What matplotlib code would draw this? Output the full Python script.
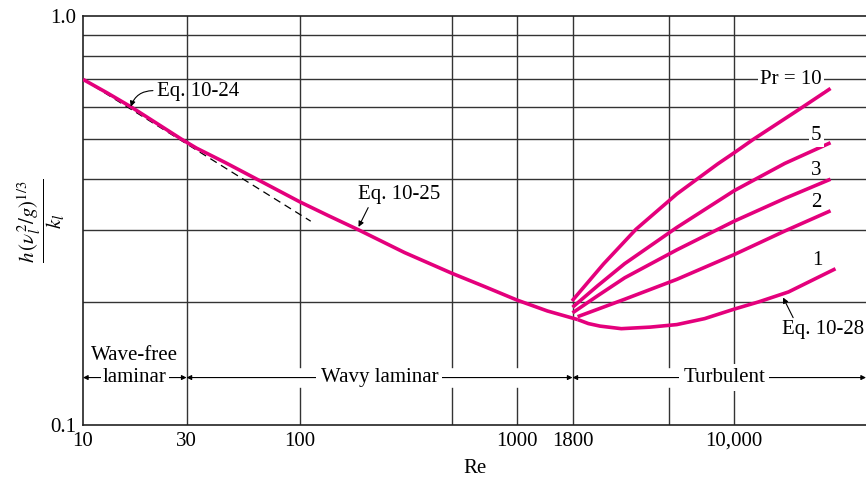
import matplotlib
matplotlib.use('Agg')
import matplotlib.pyplot as plt
from matplotlib.ticker import NullLocator

plt.rcParams['font.family'] = ['Liberation Serif', 'DejaVu Serif']
plt.rcParams['mathtext.fontset'] = 'stix'
plt.rcParams['font.size'] = 15

pink = '#E4007C'
grid_c = '#333333'

# Values
re_lam = [10, 12.9, 16.6, 28.4, 33.4, 45.3, 62.7, 100, 135, 186, 303, 500, 708, 1000,
          1380, 1905]
h_lam = [0.70, 0.649, 0.60, 0.50, 0.475, 0.438, 0.40, 0.351, 0.325, 0.30, 0.264, 0.235,
         0.218, 0.202, 0.190, 0.181]

re_eq24 = [10, 112]
h_eq24 = [0.70, 0.315]

re_pr10 = [1790, 2500, 3530, 5440, 8410, 10000, 12300, 20300, 27800]
h_pr10 = [0.201, 0.2475, 0.301, 0.367, 0.435, 0.463, 0.500, 0.595, 0.665]

re_pr5 = [1800, 2350, 3130, 5440, 10000, 17100, 27800]
h_pr5 = [0.194, 0.219, 0.248, 0.304, 0.374, 0.436, 0.490]

re_pr3 = [1800, 2350, 3130, 5440, 10000, 17100, 27800]
h_pr3 = [0.188, 0.207, 0.229, 0.268, 0.315, 0.358, 0.399]

re_pr2 = [1900, 3130, 5440, 10000, 17100, 27800]
h_pr2 = [0.184, 0.203, 0.227, 0.261, 0.298, 0.334]

re_pr1 = [1905, 2130, 2410, 3020, 4100, 5440, 7310, 10000, 12970, 17800, 29300]
h_pr1 = [0.181, 0.177, 0.1745, 0.172, 0.1735, 0.176, 0.182, 0.192, 0.200, 0.2115, 0.241]

x_ticks = [10, 30, 100, 1000, 1800, 10000]
x_labels = ['10', '30', '100', '1000', '1800', '10,000']
x_grid = [30, 100, 500, 1000, 1800, 5000, 10000]
x_bounds = [30, 1800]
y_grid = [0.2, 0.3, 0.4, 0.5, 0.6, 0.7, 0.8, 0.9]

fig = plt.figure(figsize=(8.66, 4.87), dpi=100)
ax = fig.add_axes([83 / 866, 1 - 425 / 487, 1 - 83 / 866, (425 - 16) / 487])
ax.set_xscale('log')
ax.set_yscale('log')
ax.set_xlim(10, 40500)
ax.set_ylim(0.1, 1.0)

# grid
for yv in y_grid:
    ax.axhline(yv, color=grid_c, lw=1.0, zorder=1)
for xv in x_grid:
    if xv in x_bounds:
        ax.axvline(xv, color=grid_c, lw=1.0, zorder=1)
    else:
        ax.axvline(xv, ymin=0, ymax=0.09, color=grid_c, lw=1.0, zorder=1)
        ax.axvline(xv, ymin=0.142, ymax=1, color=grid_c, lw=1.0, zorder=1)

# curves
ax.plot(re_eq24, h_eq24, color='black', lw=0.9, ls=(0, (6, 4)), zorder=2)
for re, h in [(re_lam, h_lam), (re_pr10, h_pr10), (re_pr5, h_pr5),
              (re_pr3, h_pr3), (re_pr2, h_pr2), (re_pr1, h_pr1)]:
    ax.plot(re, h, color=pink, lw=2.6, zorder=3, solid_capstyle='butt',
            solid_joinstyle='round')

# curve labels
wb = dict(facecolor='white', edgecolor='none', pad=1.5)
ax.text(18300, 0.70, 'Pr = 10', ha='center', va='center', bbox=wb, zorder=4)
ax.text(23900, 0.51, '5', ha='center', va='center', bbox=wb, zorder=4)
ax.text(23900, 0.42, '3', ha='center', va='center', zorder=4)
ax.text(23900, 0.35, '2', ha='center', va='center', zorder=4)
ax.text(24300, 0.252, '1', ha='center', va='center', zorder=4)

ax.text(16700, 0.171, 'Eq. 10-28', ha='left', va='center', zorder=4)
ax.annotate('', xy=(16800, 0.205), xytext=(18700, 0.183),
            arrowprops=dict(arrowstyle='-|>', color='black', lw=0.8,
                            mutation_scale=8, shrinkA=0, shrinkB=0), zorder=4)

ax.text(22, 0.652, 'Eq. 10-24', ha='left', va='center', zorder=4)
ax.annotate('', xy=(16.6, 0.60), xytext=(21, 0.657),
            arrowprops=dict(arrowstyle='-|>', color='black', lw=0.8,
                            mutation_scale=8, shrinkA=0, shrinkB=0,
                            connectionstyle='arc3,rad=0.35'), zorder=4)

ax.text(287, 0.367, 'Eq. 10-25', ha='center', va='center', zorder=4)
ax.annotate('', xy=(186, 0.305), xytext=(206, 0.340),
            arrowprops=dict(arrowstyle='-|>', color='black', lw=0.8,
                            mutation_scale=8, shrinkA=0, shrinkB=0), zorder=4)

# flow regimes
tr = ax.get_xaxis_transform()
ya = 0.116
aprops = dict(arrowstyle='<|-|>', color='black', lw=0.8, mutation_scale=7,
              shrinkA=0, shrinkB=0)
for x0, x1 in [(10, 30), (30, 1800), (1800, 40500)]:
    ax.annotate('', xy=(x0, ya), xytext=(x1, ya), xycoords=tr, textcoords=tr,
                arrowprops=aprops, zorder=4)
ax.text(17.3, ya, 'laminar', transform=tr, ha='center', va='center', bbox=wb, zorder=5)
ax.text(17.3, 0.171, 'Wave-free', transform=tr, ha='center', va='center', zorder=5)
ax.text(232, ya, 'Wavy laminar', transform=tr, ha='center', va='center',
        bbox=dict(facecolor='white', edgecolor='none', pad=3), zorder=5)
ax.text(9000, ya, 'Turbulent', transform=tr, ha='center', va='center',
        bbox=dict(facecolor='white', edgecolor='none', pad=3), zorder=5)

# axes
ax.set_xticks(x_ticks)
ax.set_xticklabels(x_labels)
ax.xaxis.set_minor_locator(NullLocator())
ax.set_yticks([0.1, 1.0])
ax.set_yticklabels(['0.1', '1.0'])
ax.yaxis.set_minor_locator(NullLocator())
ax.tick_params(length=0, pad=5)
for s in ['left', 'bottom', 'top']:
    ax.spines[s].set_linewidth(1.2)
    ax.spines[s].set_color('#222222')
ax.spines['right'].set_visible(False)

ax.set_xlabel('Re', labelpad=6)
ax.set_ylabel(r'$\dfrac{h\,(\nu_l^2/g)^{1/3}}{k_l}$', fontsize=15)
ax.yaxis.set_label_coords(-0.02, 0.5)

fig.savefig('out.png', dpi=100)
